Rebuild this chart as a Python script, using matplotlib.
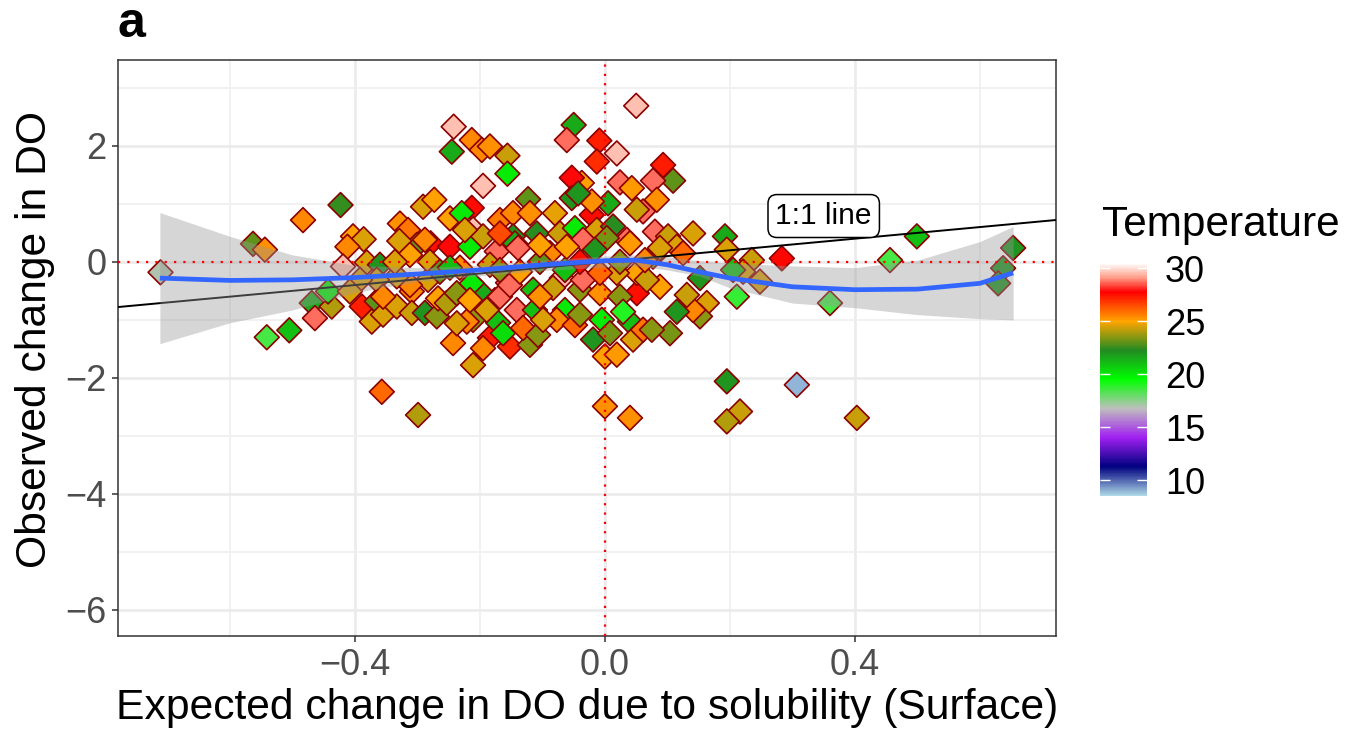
import numpy as np
import matplotlib
matplotlib.use("Agg")
import matplotlib.pyplot as plt
from matplotlib.colors import LinearSegmentedColormap, Normalize
from matplotlib.cm import ScalarMappable

plt.rcParams['font.family'] = ['Liberation Sans', 'DejaVu Sans']

# expected change (x), observed change (y), temperature for each station
exp_do = [
    -0.711, -0.563, -0.544, -0.423, -0.483, -0.541, -0.505, -0.357, -0.299, -0.469,
    -0.464, -0.437, -0.443, -0.403, -0.386, -0.412, -0.419, -0.389, -0.365, -0.373,
    -0.355, -0.328, -0.315, -0.291, -0.273, -0.301, -0.329, -0.279, -0.248, -0.248,
    -0.213, -0.229, -0.211, -0.216, -0.242, -0.245, -0.213, -0.197, -0.184, -0.156,
    -0.156, -0.195, -0.168, -0.147, -0.195, -0.147, -0.173, -0.381, -0.360, -0.243,
    -0.211, -0.152, -0.120, -0.184, -0.171, -0.115, -0.064, -0.019, -0.005, 0.000,
    0.000, -0.040, -0.155, -0.141, -0.176, -0.211, -0.050, -0.061, -0.009, 0.019,
    -0.013, 0.050, 0.093, 0.109, 0.077, 0.024, 0.043, -0.037, -0.053, -0.053,
    0.005, -0.021, -0.021, 0.061, 0.083, 0.080, 0.051, 0.141, 0.101, 0.035,
    -0.123, -0.120, -0.080, -0.109, -0.072, -0.048, -0.144, -0.139, -0.168, -0.013,
    0.013, 0.003, -0.035, -0.088, -0.061, 0.040, 0.115, 0.077, 0.125, -0.043,
    0.192, 0.195, 0.235, 0.283, 0.456, 0.499, 0.653, 0.637, 0.629, 0.360,
    0.211, 0.221, 0.248, 0.205, 0.152, 0.163, 0.152, 0.141, 0.115, 0.104,
    0.088, 0.051, 0.040, 0.019, 0.195, 0.307, 0.216, 0.195, 0.403, 0.040,
    -0.333, -0.309, -0.309, -0.288, -0.269, -0.267, -0.253, -0.237, -0.195, -0.200,
    -0.213, -0.168, -0.221, -0.189, -0.237, -0.283, -0.312, -0.333, -0.365, -0.392,
    -0.408, -0.355, -0.152, -0.112, -0.163, -0.131, -0.107, -0.069, -0.035, -0.083,
    -0.077, -0.048, -0.040, -0.008, 0.008, 0.024, 0.029, 0.045, 0.061, 0.075,
    0.131, 0.051, 0.067, 0.019, -0.008, -0.099, -0.280, -0.232, -0.184, -0.104,
    -0.040, 0.024, -0.312, -0.264, -0.136, -0.336, -0.216, -0.248, -0.104, -0.064,
    0.064, 0.088, -0.288, -0.224, -0.168, -0.016, -0.104,
]
obs_do = [
    -0.18, 0.31, 0.21, 0.98, 0.72, -1.30, -1.18, -2.24, -2.64, -0.71,
    -0.97, -0.77, -0.51, 0.44, 0.39, 0.26, -0.08, -0.77, -0.68, -1.03,
    -0.91, 0.66, 0.55, 0.95, 1.07, 0.29, 0.36, 0.32, 0.26, 0.75,
    0.93, 0.84, 0.56, 0.26, 2.33, 1.90, 2.10, 1.93, 1.99, 1.83,
    1.52, 1.31, 0.72, 0.84, 0.44, 0.44, 0.18, -0.01, -0.05, -1.40,
    -1.78, -1.46, -1.43, -1.31, -1.05, -0.48, -0.83, -1.34, -1.00, -1.63,
    -2.49, -0.48, -0.36, -0.83, -0.66, -1.00, 2.36, 2.10, 2.09, 1.87,
    1.73, 2.69, 1.67, 1.40, 1.40, 1.37, 1.27, 1.36, 1.45, 1.10,
    1.01, 0.81, 1.04, 0.87, 1.07, 0.52, 0.90, 0.49, 0.44, 0.38,
    1.08, 0.84, 0.84, 0.49, 0.49, 0.58, 0.32, 0.24, 0.49, 0.55,
    0.61, 0.41, 0.38, 0.15, 0.26, 0.32, 0.26, 0.09, 0.15, 1.18,
    0.44, 0.21, 0.03, 0.06, 0.03, 0.44, 0.24, -0.11, -0.37, -0.71,
    -0.60, -0.17, -0.34, -0.14, -0.28, -0.71, -0.94, -0.83, -0.86, -1.23,
    -0.43, -0.54, -1.03, -1.60, -2.06, -2.12, -2.58, -2.75, -2.69, -2.69,
    -0.77, -0.51, -0.88, -0.88, -0.94, -0.63, -0.71, -0.54, -1.49, -0.51,
    -0.37, -0.60, -1.03, -0.83, -1.06, -0.31, -0.40, -0.25, -0.31, -0.31,
    -0.51, -0.60, -0.40, -0.83, -1.23, -1.14, -1.26, -0.28, -0.31, -0.45,
    -1.00, -1.09, -0.91, -0.54, -1.23, -0.60, -0.86, -1.34, -1.17, -1.17,
    -0.57, -0.19, -0.31, -0.19, -0.19, -1.00, 0.00, -0.10, -0.05, 0.00,
    0.00, 0.00, 0.12, -0.17, -0.17, 0.00, -0.66, -0.10, -0.60, -0.14,
    0.03, 0.24, 0.38, 0.55, -0.14, 0.21, 0.29,
]
temp = [
    17.0, 23.0, 25.3, 22.5, 25.5, 18.5, 21.0, 26.0, 24.0, 21.5,
    28.7, 24.0, 20.0, 25.0, 24.5, 25.5, 29.6, 27.2, 23.0, 24.5,
    24.5, 25.3, 25.8, 24.5, 25.0, 23.0, 24.5, 27.5, 27.8, 25.0,
    27.6, 20.0, 29.6, 20.0, 29.6, 21.5, 25.5, 25.5, 25.3, 24.3,
    20.0, 29.6, 25.7, 25.5, 24.3, 22.0, 28.7, 24.5, 22.0, 25.5,
    24.5, 27.0, 23.5, 27.3, 21.0, 21.0, 20.0, 22.0, 20.0, 25.0,
    25.3, 23.5, 28.7, 28.7, 28.7, 23.5, 21.5, 28.7, 27.2, 29.6,
    27.0, 29.6, 27.3, 23.0, 28.7, 28.7, 25.2, 25.0, 27.8, 22.0,
    21.5, 27.6, 25.3, 28.7, 25.3, 28.7, 24.3, 24.5, 24.3, 28.7,
    23.0, 25.3, 24.7, 22.3, 24.3, 20.0, 21.5, 28.7, 26.5, 24.5,
    22.3, 23.3, 28.7, 25.5, 25.0, 25.2, 24.5, 23.5, 26.0, 22.0,
    21.5, 24.5, 24.3, 27.7, 18.5, 21.0, 22.0, 22.0, 22.0, 18.5,
    18.7, 24.5, 24.5, 21.0, 22.0, 24.5, 23.5, 25.5, 22.0, 23.3,
    25.0, 27.5, 21.0, 25.2, 22.0, 9.0, 24.3, 24.0, 24.3, 25.3,
    24.5, 25.5, 24.3, 22.0, 23.5, 25.0, 24.0, 23.5, 25.5, 21.5,
    20.0, 28.7, 25.5, 24.5, 24.5, 24.5, 25.5, 24.5, 24.5, 24.5,
    24.5, 25.5, 28.7, 21.0, 20.3, 26.0, 23.5, 29.6, 28.7, 24.3,
    25.5, 26.0, 23.5, 25.3, 23.3, 23.5, 19.0, 24.5, 25.8, 23.5,
    24.3, 25.0, 24.3, 24.5, 26.0, 24.5, 24.5, 25.5, 24.3, 23.0,
    27.5, 23.5, 25.0, 23.0, 25.0, 24.5, 25.0, 21.0, 25.3, 21.0,
    25.5, 24.5, 25.5, 24.5, 23.5, 22.0, 25.0,
]

# loess fit and its confidence band
fit_x = [-0.712, -0.6, -0.5, -0.4, -0.3, -0.2, -0.1, 0.0, 0.05, 0.1,
         0.15, 0.2, 0.3, 0.4, 0.5, 0.6, 0.653]
fit_y = [-0.28, -0.32, -0.31, -0.27, -0.21, -0.14, -0.05, 0.02, 0.03, -0.05,
         -0.17, -0.28, -0.43, -0.48, -0.47, -0.37, -0.19]
fit_lo = [-1.41, -1.05, -0.83, -0.53, -0.34, -0.24, -0.15, -0.09, -0.07, -0.14,
          -0.24, -0.45, -0.71, -0.79, -0.91, -0.98, -1.00]
fit_hi = [0.85, 0.44, 0.12, -0.06, -0.10, -0.06, 0.03, 0.10, 0.12, 0.09,
          0.02, -0.02, -0.07, -0.10, 0.03, 0.35, 0.61]

x_ticks = [-0.4, 0.0, 0.4]
x_labels = ['\u22120.4', '0.0', '0.4']
y_ticks = [-6, -4, -2, 0, 2]
y_labels = ['\u22126', '\u22124', '\u22122', '0', '2']
temp_ticks = [10, 15, 20, 25, 30]
temp_stops = [0.0, 0.125, 0.25, 0.375, 0.5, 0.625, 0.75, 0.877, 0.94, 1.0]
temp_colours = ['#ADD8E6', '#000080', '#A020F0', '#BEBEBE', '#00FF00',
                '#228B22', '#FFA500', '#FF0000', '#FFA08A', '#FFFFFF']

cmap = LinearSegmentedColormap.from_list('temp', list(zip(temp_stops, temp_colours)), N=300)
norm = Normalize(vmin=8.5, vmax=30.5)

fig = plt.figure(figsize=(13.46, 7.34), dpi=100)
ax = fig.add_axes([118/1346, 98/734, 938/1346, 576/734])

ax.set_xlim(-0.779, 0.7216)
ax.set_ylim(-6.45, 3.48)
ax.set_xticks(x_ticks)
ax.set_xticklabels(x_labels)
ax.set_yticks(y_ticks)
ax.set_yticklabels(y_labels)
ax.set_xticks([-0.6, -0.2, 0.2, 0.6], minor=True)
ax.set_yticks([-5, -3, -1, 1, 3], minor=True)
ax.grid(which='major', color='#EBEBEB', lw=1.9, zorder=0)
ax.grid(which='minor', color='#EFEFEF', lw=1.2, zorder=0)
ax.set_axisbelow(True)
ax.tick_params(which='major', length=4.5, width=1.1, color='#333333',
               labelsize=26, labelcolor='#4D4D4D', pad=4)
ax.tick_params(which='minor', length=0)
for s in ax.spines.values():
    s.set_color('#333333')
    s.set_linewidth(1.1)

ax.scatter(exp_do, obs_do, c=temp, cmap=cmap, norm=norm, marker='D', s=160,
           edgecolors='#8B0000', linewidths=1.2, zorder=2)

lim = np.array([-0.779, 0.7216])
ax.plot(lim, lim, color='black', lw=1.4, zorder=3)
ax.fill_between(fit_x, fit_lo, fit_hi, color='#999999', alpha=0.4, lw=0, zorder=4)
ax.axhline(0, color='red', lw=1.6, ls=(0, (1, 3.2)), zorder=5)
ax.axvline(0, color='red', lw=1.6, ls=(0, (1, 3.2)), zorder=5)
ax.plot(fit_x, fit_y, color='#3366FF', lw=3.4, zorder=6, solid_capstyle='butt')

ax.text(0.35, 0.79, '1:1 line', fontsize=21.5, ha='center', va='center', zorder=7,
        bbox=dict(boxstyle='round,pad=0.25,rounding_size=0.3', fc='white',
                  ec='black', lw=1.1))

fig.text(587/1346, (734-708)/734, 'Expected change in DO due to solubility (Surface)',
         fontsize=30.7, ha='center', va='center')
fig.text(35/1346, (734-340)/734, 'Observed change in DO', fontsize=30.7,
         rotation=90, ha='center', va='center')
fig.text(118/1346, (734-37)/734, 'a', fontsize=36, fontweight='bold',
         ha='left', va='baseline')

# colour bar
cax = fig.add_axes([1100/1346, (734-496)/734, 47/1346, 233/734])
cb = fig.colorbar(ScalarMappable(norm=norm, cmap=cmap), cax=cax, ticks=temp_ticks)
cb.outline.set_visible(False)
cax.tick_params(direction='in', length=7, width=1, color='white',
                left=True, right=True, labelsize=26, pad=13)
fig.text(1102/1346, (734-225)/734, 'Temperature', fontsize=30.5,
         ha='left', va='center')

fig.savefig('out.png', dpi=100)
